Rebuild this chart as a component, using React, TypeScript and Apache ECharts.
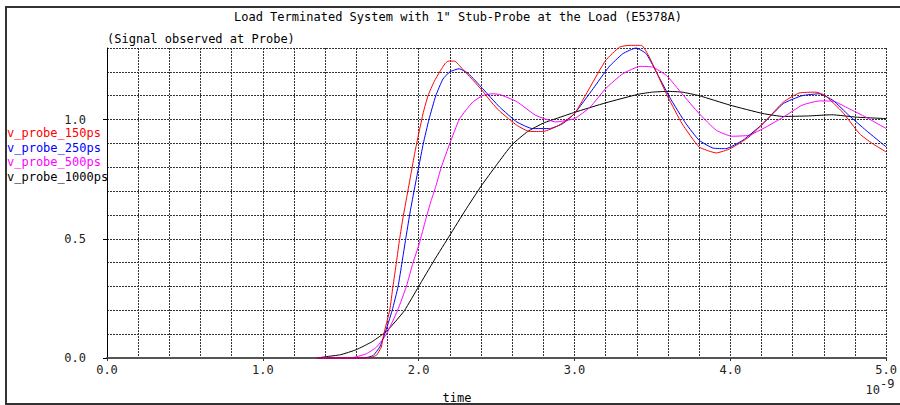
import React, { useEffect, useRef } from "react";
import * as echarts from "echarts";

// time in ns, value in V
const red150: [number, number][] = [
  [1.35, 0], [1.68, 0], [1.7, 0.003], [1.73, 0.012], [1.76, 0.046], [1.776, 0.1], [1.814, 0.2],
  [1.835, 0.3], [1.857, 0.4], [1.878, 0.5], [1.9, 0.59], [1.925, 0.68], [1.95, 0.77],
  [1.975, 0.86], [2.0, 0.94], [2.03, 1.03], [2.06, 1.1], [2.1, 1.16], [2.135, 1.2], [2.17, 1.235],
  [2.19, 1.245], [2.23, 1.245], [2.28, 1.213], [2.35, 1.164], [2.41, 1.12], [2.47, 1.07],
  [2.52, 1.035], [2.63, 0.976], [2.71, 0.95], [2.8, 0.95], [2.9, 0.976], [3.0, 1.025],
  [3.1, 1.136], [3.2, 1.248], [3.29, 1.304], [3.35, 1.311], [3.43, 1.311], [3.48, 1.262],
  [3.54, 1.178], [3.6, 1.094], [3.69, 0.983], [3.8, 0.885], [3.91, 0.86], [4.0, 0.878],
  [4.12, 0.927], [4.23, 0.997], [4.34, 1.073], [4.44, 1.111], [4.55, 1.115], [4.61, 1.1],
  [4.72, 1.031], [4.83, 0.94], [4.91, 0.9], [5.0, 0.864],
];

const blue250: [number, number][] = [
  [1.35, 0], [1.65, 0], [1.707, 0.01], [1.75, 0.046], [1.782, 0.1], [1.83, 0.2], [1.868, 0.3],
  [1.893, 0.4], [1.917, 0.5], [1.942, 0.6], [1.97, 0.7], [2.0, 0.8], [2.03, 0.9],
  [2.066, 1.0], [2.11, 1.1], [2.156, 1.17], [2.2, 1.2], [2.26, 1.213], [2.32, 1.192], [2.41, 1.13],
  [2.52, 1.052], [2.63, 0.99], [2.73, 0.962], [2.84, 0.962], [2.925, 0.983], [3.0, 1.025],
  [3.12, 1.13], [3.22, 1.22], [3.31, 1.276], [3.395, 1.3], [3.46, 1.276], [3.52, 1.206],
  [3.61, 1.094], [3.715, 0.983], [3.8, 0.913], [3.89, 0.88], [3.97, 0.878], [4.08, 0.913],
  [4.21, 0.983], [4.34, 1.067], [4.46, 1.1], [4.57, 1.108], [4.66, 1.08], [4.76, 1.018],
  [4.87, 0.955], [5.0, 0.885],
];

const magenta500: [number, number][] = [
  [1.35, 0], [1.55, 0], [1.6, 0.005], [1.665, 0.018], [1.73, 0.046], [1.793, 0.1], [1.865, 0.2],
  [1.921, 0.3], [1.964, 0.4], [2.004, 0.48], [2.045, 0.58], [2.08, 0.66], [2.11, 0.72],
  [2.145, 0.8], [2.2, 0.9], [2.26, 1.0], [2.31, 1.045], [2.35, 1.075], [2.41, 1.1], [2.47, 1.108],
  [2.52, 1.105], [2.63, 1.075], [2.75, 1.018], [2.88, 0.99], [3.0, 1.004], [3.1, 1.052],
  [3.2, 1.13], [3.31, 1.192], [3.42, 1.223], [3.5, 1.22], [3.59, 1.185], [3.69, 1.108],
  [3.8, 1.025], [3.91, 0.955], [4.01, 0.93], [4.12, 0.934], [4.23, 0.969], [4.34, 1.01],
  [4.46, 1.06], [4.57, 1.078], [4.66, 1.077], [4.76, 1.046], [4.87, 1.01], [5.0, 0.962],
];

const black1000: [number, number][] = [
  [1.35, 0], [1.4, 0.005], [1.5, 0.014], [1.6, 0.035], [1.7, 0.068], [1.77, 0.1], [1.8, 0.116],
  [1.86, 0.16], [1.91, 0.2], [2.0, 0.3], [2.1, 0.41], [2.2, 0.515], [2.3, 0.62], [2.4, 0.72],
  [2.5, 0.81], [2.6, 0.895], [2.7, 0.95], [2.8, 0.985], [2.9, 1.008], [3.0, 1.03], [3.2, 1.07],
  [3.41, 1.106], [3.5, 1.115], [3.6, 1.118], [3.69, 1.115], [3.8, 1.1], [4.0, 1.06],
  [4.21, 1.025], [4.34, 1.013], [4.5, 1.015], [4.65, 1.02], [4.81, 1.01], [5.0, 1.004],
];

const seriesNames = ["v_probe_150ps", "v_probe_250ps", "v_probe_500ps", "v_probe_1000ps"];
const seriesColors = ["#ff0000", "#0000ff", "#ff00ff", "#000000"];
const seriesData = [red150, blue250, magenta500, black1000];

const xLabelValues = [0, 1, 2, 3, 4, 5];
const yLabelValues = [0, 0.5, 1.0];

const titleText = 'Load Terminated System with 1" Stub-Probe at the Load (E5378A)';
const subtitleText = "(Signal observed at Probe)";

const FONT = "DejaVu Sans Mono";

export default function App() {
  const ref = useRef<HTMLDivElement>(null);

  useEffect(() => {
    if (!ref.current) return;
    const chart = echarts.init(ref.current, undefined, { renderer: "svg" });
    const near = (v: number, arr: number[]) => arr.some((a) => Math.abs(a - v) < 1e-6);
    const gridLine = { show: true, lineStyle: { color: "#333", width: 1, type: [2, 1] } };
    chart.setOption({
      animation: false,
      backgroundColor: "#ffffff",
      title: [
        {
          text: titleText,
          left: 234,
          top: 11,
          padding: 0,
          textStyle: { fontFamily: FONT, fontSize: 12, fontWeight: "normal", color: "#000" },
        },
        {
          text: subtitleText,
          left: 107,
          top: 33,
          padding: 0,
          textStyle: { fontFamily: FONT, fontSize: 12, fontWeight: "normal", color: "#000" },
        },
      ],
      legend: {
        orient: "vertical",
        left: 2,
        top: 126,
        padding: 0,
        itemWidth: 0,
        itemHeight: 14,
        itemGap: 1.5,
        icon: "none",
        selectedMode: false,
        textStyle: { fontFamily: FONT, fontSize: 12 },
        data: seriesNames.map((n, i) => ({ name: n, textStyle: { color: seriesColors[i] } })),
      },
      grid: { left: 107, top: 48, width: 780, height: 310, containLabel: false },
      xAxis: [
        {
          type: "value",
          min: 0,
          max: 5,
          interval: 0.2,
          axisLine: { show: true, lineStyle: { color: "#555", width: 2 } },
          axisTick: { show: false },
          axisLabel: {
            margin: 6,
            fontFamily: FONT,
            fontSize: 12,
            color: "#222",
            formatter: (v: number) => (near(v, xLabelValues) ? v.toFixed(1) : ""),
          },
          splitLine: gridLine,
        },
        {
          type: "value",
          position: "bottom",
          min: 0,
          max: 5,
          interval: 1,
          axisLine: { show: false },
          axisTick: { show: true, length: 3, lineStyle: { color: "#333" } },
          axisLabel: { show: false },
          splitLine: { show: false },
        },
      ],
      yAxis: [
        {
          type: "value",
          min: 0,
          max: 1.3,
          interval: 0.1,
          axisLine: { show: true, lineStyle: { color: "#000", width: 1 } },
          axisTick: { show: false },
          axisLabel: {
            margin: 21,
            fontFamily: FONT,
            fontSize: 12,
            color: "#222",
            formatter: (v: number) => (near(v, yLabelValues) ? v.toFixed(1) : ""),
          },
          splitLine: gridLine,
        },
        {
          type: "value",
          position: "left",
          min: 0,
          max: 1.3,
          interval: 0.5,
          axisLine: { show: false },
          axisTick: { show: true, length: 4, customValues: yLabelValues, lineStyle: { color: "#000" } },
          axisLabel: { show: false },
          splitLine: { show: false },
        },
      ],
      graphic: [
        {
          type: "rect",
          shape: { x: 6, y: 7, width: 910, height: 397 },
          style: { fill: "none", stroke: "#333", lineWidth: 2 },
          silent: true,
        },
        {
          type: "text",
          x: 457,
          y: 398,
          style: { text: "time", align: "center", verticalAlign: "middle", font: `12px "${FONT}"`, fill: "#000" },
        },
        {
          type: "text",
          x: 880,
          y: 390,
          style: { text: "10", align: "right", verticalAlign: "middle", font: `12px "${FONT}"`, fill: "#222" },
        },
        {
          type: "text",
          x: 880,
          y: 384,
          style: { text: "-9", align: "left", verticalAlign: "middle", font: `12px "${FONT}"`, fill: "#222" },
        },
      ],
      series: seriesData.map((d, i) => ({
        name: seriesNames[i],
        type: "line",
        data: d,
        showSymbol: false,
        symbol: "none",
        smooth: 0.15,
        clip: false,
        color: seriesColors[i],
        lineStyle: { color: seriesColors[i], width: 1 },
        emphasis: { disabled: true },
        z: 10 - i,
      })),
    });
    return () => chart.dispose();
  }, []);

  return (
    <div
      ref={ref}
      style={{ position: "absolute", left: 0, top: 0, width: 900, height: 405, background: "#fff" }}
    />
  );
}
